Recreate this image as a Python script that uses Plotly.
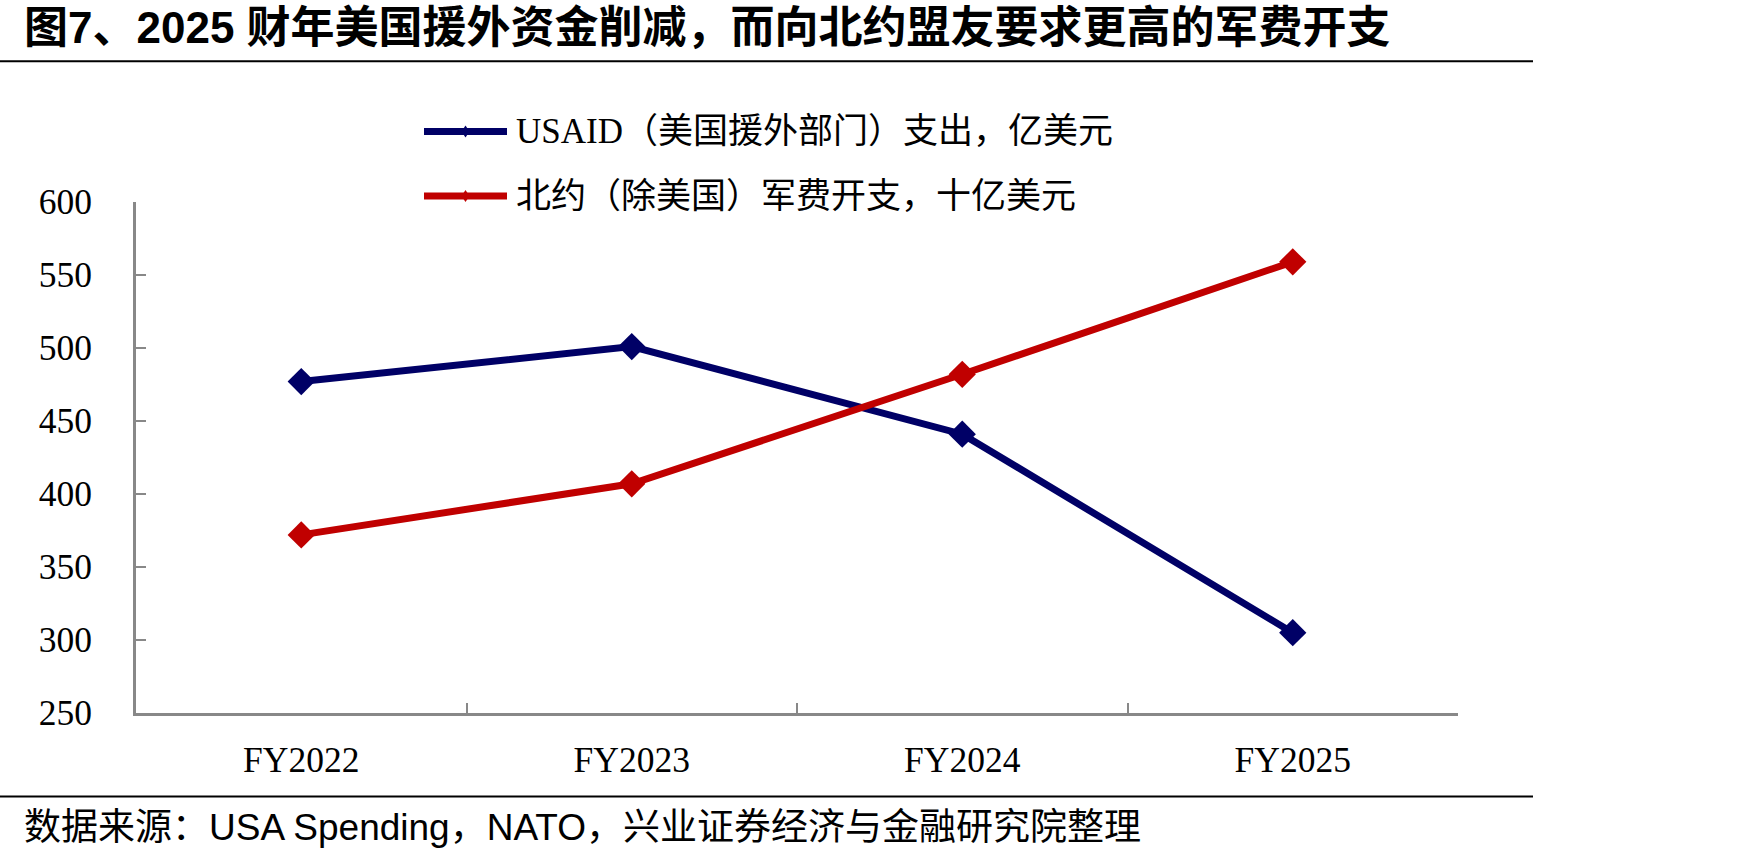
import plotly.graph_objects as go

# ---- data ----
categories = ["FY2022", "FY2023", "FY2024", "FY2025"]
usaid_values = [477, 501, 441, 305]
nato_values = [372, 407, 482, 559]
series_names = ["USAID（美国援外部门）支出，亿美元", "北约（除美国）军费开支，十亿美元"]
series_colors = ["#000066", "#C00000"]
title_text = "图7、2025 财年美国援外资金削减，而向北约盟友要求更高的军费开支"
source_text = "数据来源：USA Spending，NATO，兴业证券经济与金融研究院整理"

W, H = 1748, 857
L, R, T, B = 136, 1458, 202, 713.5  # plot area in pixels


def px(x):
    return (x - L) / (R - L)


def py(y):
    return (B - y) / (B - T)


serif = "Liberation Serif, Times New Roman, Noto Sans CJK SC, serif"
sans = "Liberation Sans, Arial, Noto Sans CJK SC, sans-serif"

fig = go.Figure()
for name, vals, col in zip(series_names, [usaid_values, nato_values], series_colors):
    fig.add_trace(go.Scatter(
        x=categories, y=vals, name=name, mode="lines+markers",
        line=dict(color=col, width=7),
        marker=dict(symbol="diamond", size=21, color=col),
        showlegend=False,
    ))

shapes = []
annotations = []
# title and rules
annotations.append(dict(text="<b>" + title_text + "</b>", x=px(22), y=py(27), xref="paper", yref="paper",
                        xanchor="left", yanchor="middle", showarrow=False,
                        font=dict(family=sans, size=44, color="black")))
shapes.append(dict(type="line", xref="paper", yref="paper", x0=px(0), x1=px(1533), y0=py(61), y1=py(61),
                   line=dict(color="black", width=2)))
shapes.append(dict(type="line", xref="paper", yref="paper", x0=px(0), x1=px(1533), y0=py(797), y1=py(797),
                   line=dict(color="black", width=2)))
annotations.append(dict(text=source_text, x=px(22), y=py(828), xref="paper", yref="paper",
                        xanchor="left", yanchor="middle", showarrow=False,
                        font=dict(family=sans, size=37, color="black")))

# custom legend
for i, (name, col) in enumerate(zip(series_names, series_colors)):
    yy = 131.5 + i * 64.5
    shapes.append(dict(type="line", xref="paper", yref="paper", x0=px(424), x1=px(507), y0=py(yy), y1=py(yy),
                       line=dict(color=col, width=7)))
    cx = 465.5
    shapes.append(dict(type="path", xref="paper", yref="paper",
                       path=f"M {px(cx-4)} {py(yy)} L {px(cx)} {py(yy-6)} L {px(cx+4)} {py(yy)} L {px(cx)} {py(yy+6)} Z",
                       fillcolor=col, line=dict(color=col, width=0)))
    annotations.append(dict(text=name, x=px(514), y=py(yy), xref="paper", yref="paper",
                            xanchor="left", yanchor="middle", showarrow=False,
                            font=dict(family=serif, size=35, color="black")))

axis_color = "#888888"
fig.update_layout(
    width=W, height=H,
    margin=dict(l=L, r=W - R, t=T, b=H - B, pad=0),
    paper_bgcolor="white", plot_bgcolor="white",
    shapes=shapes, annotations=annotations,
    xaxis=dict(type="category", range=[-0.5, 3.5], tickson="boundaries", ticks="inside", ticklen=10, tickwidth=2,
               tickcolor=axis_color, showline=True, linecolor=axis_color, linewidth=3,
               showgrid=False, zeroline=False, ticklabelstandoff=13,
               tickfont=dict(family=serif, size=35.5, color="black")),
    yaxis=dict(range=[250, 600], dtick=50, ticks="inside", ticklen=10, tickwidth=2,
               tickcolor=axis_color, showline=True, linecolor=axis_color, linewidth=3,
               showgrid=False, zeroline=False, ticklabelstandoff=34,
               tickfont=dict(family=serif, size=35.5, color="black")),
)

fig.write_html("out.html")
